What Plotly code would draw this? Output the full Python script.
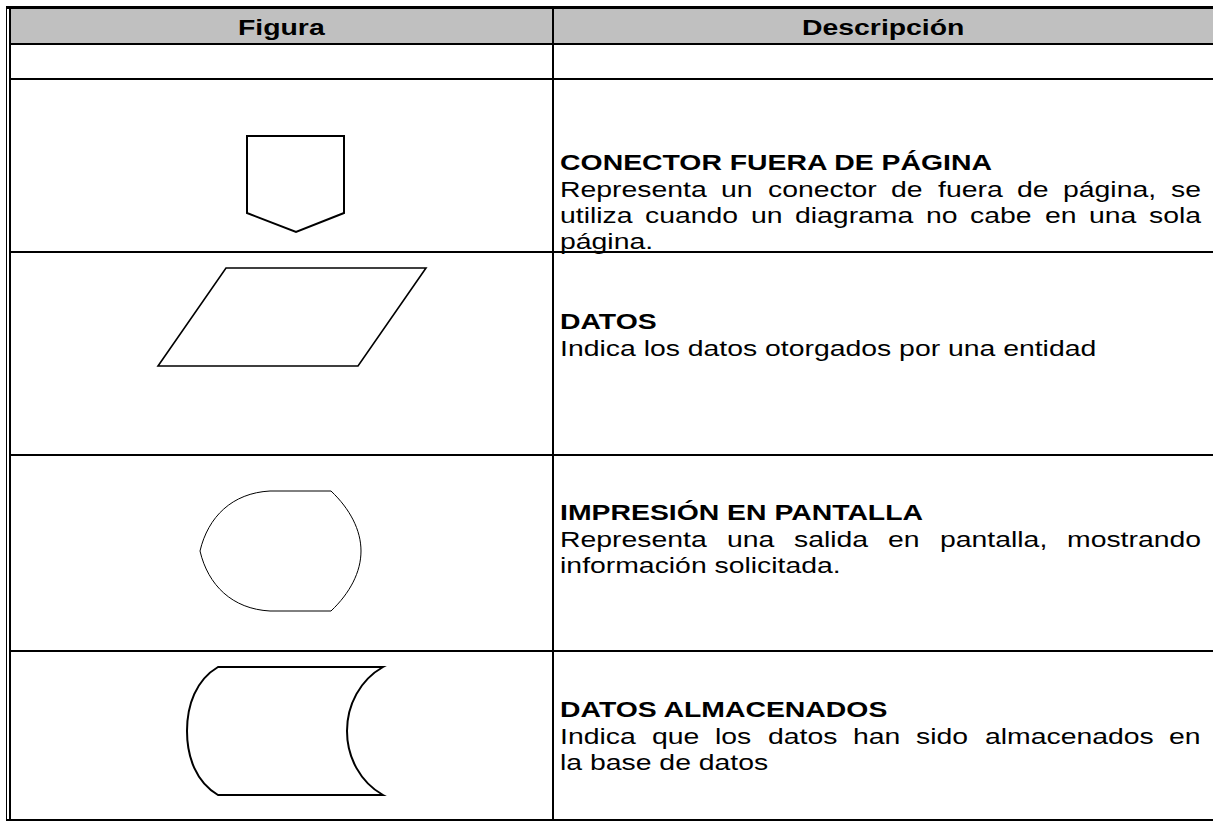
import plotly.graph_objects as go

# ---------------- data (text content) ----------------
header_labels = ["Figura", "Descripción"]
figure_titles = [
    "CONECTOR FUERA DE PÁGINA",
    "DATOS",
    "IMPRESIÓN EN PANTALLA",
    "DATOS ALMACENADOS",
]
# description lines; second item = justified?
description_lines = [
    [("Representa un conector de fuera de página, se", True),
     ("utiliza cuando un diagrama no cabe en una sola", True),
     ("página.", False)],
    [("Indica los datos otorgados por una entidad", False)],
    [("Representa una salida en pantalla, mostrando", True),
     ("información solicitada.", False)],
    [("Indica que los datos han sido almacenados en", True),
     ("la base de datos", False)],
]

# ---------------- layout geometry (pixels) ----------------
W, H = 1213, 821
FONT = "Liberation Sans, Arial, sans-serif"
FS = 22
STRETCH = 1.29          # the reference text is horizontally widened
LEFT_OUTER = 6.5
LEFT_INNER = 10
COL_X = 553
TOP_Y = 7.5
HEADER_BOTTOM = 44
EMPTY_ROW_BOTTOM = 79
ROW_BOTTOMS = [252, 455, 651, 820]
TEXT_X0 = 560
TEXT_X1 = 1201
HEADER_Y = 27
TITLE_Y = [162, 321, 512, 709]
LINE_GAP_FIRST = 27
LINE_GAP = 26

# Arial (Liberation Sans) advance widths /1000 em
AW = {' ': 278, ',': 278, '.': 278,
      'a': 556, 'b': 556, 'c': 500, 'd': 556, 'e': 556, 'f': 278, 'g': 556,
      'h': 556, 'i': 222, 'j': 222, 'k': 500, 'l': 222, 'm': 833, 'n': 556,
      'o': 556, 'p': 556, 'q': 556, 'r': 333, 's': 500, 't': 278, 'u': 556,
      'v': 500, 'w': 722, 'x': 500, 'y': 500, 'z': 500, 'á': 556, 'ó': 556,
      'é': 556, 'í': 278, 'ú': 556, 'I': 278, 'R': 722}
AWB = {'F': 611, 'i': 278, 'g': 611, 'u': 611, 'r': 389, 'a': 556, 'D': 722,
       'e': 556, 's': 556, 'c': 556, 'p': 611, 'ó': 611, 'n': 611}


def text_w(s, table=AW):
    return sum(table.get(ch, 556) for ch in s) * FS / 1000.0 * STRETCH


fig = go.Figure()
shapes = []
annotations = []


def hline(y, x0, x1, w):
    shapes.append(dict(type="line", x0=x0, x1=x1, y0=y, y1=y,
                       line=dict(color="black", width=w), layer="above"))


def vline(x, y0, y1, w):
    shapes.append(dict(type="line", x0=x, x1=x, y0=y0, y1=y1,
                       line=dict(color="black", width=w), layer="above"))


def add_text(x, y, txt):
    annotations.append(dict(x=x, y=y, text=txt, showarrow=False,
                            xanchor="left", yanchor="middle", borderpad=0, borderwidth=0,
                            font=dict(family=FONT, size=FS, color="black")))


# header background
shapes.append(dict(type="rect", x0=LEFT_INNER, x1=W + 5, y0=TOP_Y, y1=HEADER_BOTTOM,
                   fillcolor="#C0C0C0", line=dict(width=0), layer="below"))

# table lines
hline(TOP_Y, LEFT_OUTER - 0.5, W + 5, 3)
hline(HEADER_BOTTOM, LEFT_INNER, W + 5, 2)
hline(EMPTY_ROW_BOTTOM, LEFT_INNER, W + 5, 2)
for yb in ROW_BOTTOMS[:-1]:
    hline(yb, LEFT_INNER, W + 5, 2)
hline(ROW_BOTTOMS[-1], LEFT_OUTER - 0.5, W + 5, 2)
vline(LEFT_OUTER, TOP_Y, H, 1)
vline(LEFT_INNER, TOP_Y, ROW_BOTTOMS[-1], 2)
vline(COL_X, TOP_Y, ROW_BOTTOMS[-1], 2)

# header labels (centred in their columns)
for lab, cx in zip(header_labels, [(LEFT_INNER + COL_X) / 2, (COL_X + W) / 2]):
    add_text(cx - text_w(lab, AWB) / 2, HEADER_Y, "<b>%s</b>" % lab)

# figure symbols (paths in pixel space)
symbol_paths = [
    ("M 247 136 L 344 136 L 344 213 L 296 232 L 247 213 Z", 2),
    ("M 226 268 L 426 268 L 358 366 L 158 366 Z", 1.6),
    ("M 270 491 L 331 491 C 350 509 361 530 361 551 C 361 572 350 593 331 611 "
     "L 270 611 C 232 609 208 585 200 551 C 208 517 232 493 270 491 Z", 1),
    ("M 218 667 L 383 667 C 360 680 347 705 347 731 C 347 757 360 782 383 795 "
     "L 218 795 C 196 782 187 757 187 731 C 187 705 196 680 218 667 Z", 2),
]
for p, w in symbol_paths:
    shapes.append(dict(type="path", path=p, line=dict(color="black", width=w),
                       fillcolor="rgba(0,0,0,0)", layer="above"))

# descriptions
for title, ty, lines in zip(figure_titles, TITLE_Y, description_lines):
    add_text(TEXT_X0, ty, "<b>%s</b>" % title)
    y = ty + LINE_GAP_FIRST
    for txt, just in lines:
        if not just:
            add_text(TEXT_X0, y, txt)
        else:
            words = txt.split(" ")
            ws = [text_w(wd) for wd in words]
            gap = (TEXT_X1 - TEXT_X0 - sum(ws)) / (len(words) - 1)
            x = TEXT_X0
            for wd, ww in zip(words, ws):
                add_text(x, y, wd)
                x += ww + gap
        y += LINE_GAP

fig.update_layout(
    width=W, height=H,
    margin=dict(l=0, r=0, t=0, b=0),
    paper_bgcolor="white", plot_bgcolor="white",
    xaxis=dict(range=[0, W], visible=False, fixedrange=True),
    yaxis=dict(range=[H, 0], visible=False, fixedrange=True),
    shapes=shapes, annotations=annotations, showlegend=False,
)

post = (
    "document.body.style.margin='0px';"
    "document.body.style.overflow='hidden';"
    "var gd=document.getElementById('{plot_id}');"
    "gd.querySelectorAll('text.annotation-text').forEach(function(t){"
    "t.style.transformBox='fill-box';"
    "t.style.transformOrigin='0% 50%';"
    "t.style.transform='scaleX(" + str(STRETCH) + ")';});"
)
fig.write_html("out.html", config={"displayModeBar": False}, post_script=post)
